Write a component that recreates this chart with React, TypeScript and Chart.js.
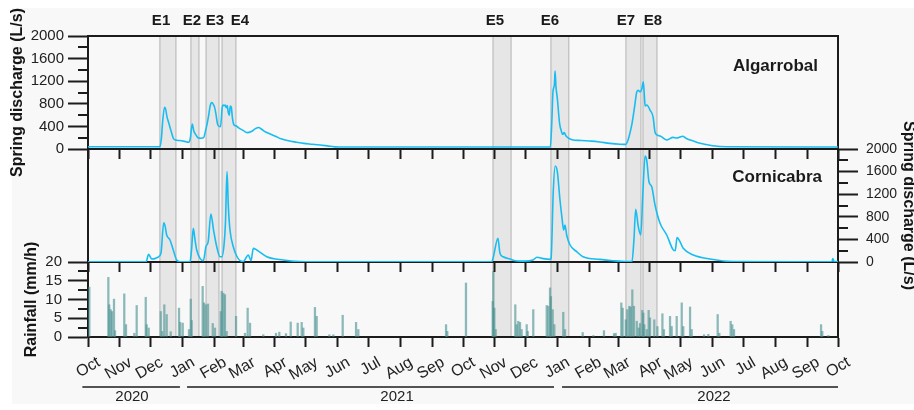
import React, { useEffect, useRef } from 'react';
import { Chart, registerables } from 'chart.js';

Chart.register(...registerables);

const FAMILY = '"Liberation Sans", Arial, Helvetica, sans-serif';
const AX = '#1c1c1c';
const TXT = '#222222';
const LINE = '#17bdf0';
const RAIN = 'rgba(72,146,146,0.62)';

// x axis: days since 1 Oct 2020
const monthTickDays = [0, 31, 61, 92, 123, 151, 182, 212, 243, 273, 304, 335, 365, 396, 426, 457, 488, 516, 547, 577, 608, 638, 669, 700, 730];
const monthLabels = ['Oct', 'Nov', 'Dec', 'Jan', 'Feb', 'Mar', 'Apr', 'May', 'Jun', 'Jul', 'Aug', 'Sep', 'Oct', 'Nov', 'Dec', 'Jan', 'Feb', 'Mar', 'Apr', 'May', 'Jun', 'Jul', 'Aug', 'Sep', 'Oct'];

const yearLabels = ['2020', '2021', '2022'];
const yearLabelDays = [42.8, 300.8, 609.3];
const yearLineStart = [-5.5, 96.4, 461.4];
const yearLineEnd = [89.5, 453.6, 730];

const eventNames = ['E1', 'E2', 'E3', 'E4', 'E5', 'E6', 'E7', 'E8'];
const eventStart = [70, 100.2, 114.9, 130.5, 394.2, 450.6, 523.6, 540.2];
const eventEnd = [85.6, 108, 127.5, 144, 411.8, 468, 538.2, 553.8];
const eventLabelDays = [71.1, 101.2, 123.6, 147.9, 396.1, 449.7, 523.6, 549.9];

const dischargeTicks = [0, 400, 800, 1200, 1600, 2000];
const rainTicks = [0, 5, 10, 15, 20];

// Algarrobal spring discharge (L/s)
const algDays = [0, 70, 71.5, 72.5, 74.5, 75.5, 77, 78.5, 80, 81.5, 83, 85, 89, 94, 98, 99.5, 101.5, 103, 105, 107, 110, 112.5, 114.5, 116, 117.5, 119, 120.5, 122, 123.5, 124.5, 126, 127.5, 129, 130.5, 131.5, 132.5, 133.5, 134.5, 135.5, 136.5, 137.5, 138.5, 139.5, 140.5, 142, 144, 147, 151, 155, 159, 163, 166, 169, 173, 178, 183, 188, 195, 203, 210, 218, 226, 233, 240, 245, 450, 451.5, 452.5, 454, 454.6, 455.5, 456.8, 459, 461, 462, 463.5, 465, 467, 471, 480, 490, 498, 508, 518, 523.5, 525.5, 527.5, 529.5, 531, 532.4, 534, 535.4, 537.3, 539, 540.5, 541.5, 542.3, 544, 547, 550, 552, 555, 557, 563.6, 569.4, 573, 576, 579, 582, 586, 595.7, 608, 622, 730];
const algVals = [40, 40, 200, 450, 740, 710, 560, 470, 370, 280, 190, 160, 150, 135, 120, 180, 440, 320, 250, 200, 190, 200, 330, 450, 600, 770, 820, 790, 720, 620, 450, 400, 395, 720, 780, 765, 780, 730, 770, 650, 600, 760, 740, 560, 430, 410, 370, 330, 290, 310, 360, 380, 350, 300, 260, 220, 180, 145, 120, 100, 85, 70, 55, 38, 35, 35, 500, 1000, 1150, 1380, 1100, 900, 455, 300, 260, 290, 240, 200, 165, 150, 140, 125, 100, 85, 82, 150, 280, 450, 620, 800, 1000, 1040, 1010, 1060, 1190, 950, 760, 780, 690, 570, 290, 240, 230, 160, 205, 195, 210, 225, 190, 160, 100, 58, 40, 35];

// Cornicabra spring discharge (L/s)
const corDays = [0, 56.5, 59, 62, 65, 68, 71, 73.7, 75, 76.6, 79.8, 83, 86.3, 89.5, 99.3, 100.7, 102.5, 104.1, 105.8, 109, 112.3, 114.8, 117, 119.6, 122.2, 125.3, 128.5, 130.4, 132.4, 133.8, 135.3, 136.6, 138.2, 141.4, 144.7, 148, 151.2, 156, 158.7, 160.9, 164.2, 174, 190, 206, 220, 393, 394.2, 399, 401, 404, 410.7, 417.6, 425, 433, 437, 443, 449.7, 450.7, 452.9, 454.8, 456.8, 459.4, 461.4, 463, 464.3, 465.9, 469.2, 475.7, 481.8, 498.3, 511, 525, 529.5, 531.4, 533.1, 535.6, 538, 540.2, 542.2, 543.8, 546, 548.7, 551.9, 556.8, 563.3, 569.8, 571.6, 573.3, 576.2, 579.4, 589.2, 605.4, 627.8, 724, 725, 726, 730];
const corVals = [5, 5, 136, 53, 60, 83, 154, 696, 640, 478, 389, 212, 35, 5, 5, 200, 596, 400, 212, 65, 25, 271, 360, 850, 566, 271, 94, 94, 300, 700, 1600, 980, 566, 271, 106, 23, 10, 124, 23, 242, 212, 94, 35, 8, 5, 5, 60, 419, 154, 94, 53, 18, 15, 35, 83, 60, 47, 60, 1274, 1699, 1598, 1097, 773, 566, 655, 478, 301, 182, 94, 47, 23, 8, 10, 400, 932, 625, 478, 1274, 1876, 1805, 1421, 1333, 1009, 685, 478, 212, 201, 431, 360, 242, 124, 53, 8, 5, 60, 10, 10];

// Rainfall (mm/h)
const rainDays = [1.3, 19.8, 20.7, 22.1, 23.4, 25.3, 26.3, 35.3, 37, 45.1, 47.4, 56.2, 57.1, 59.1, 70.8, 72.3, 74.3, 76.6, 80.5, 88.6, 89.8, 92.2, 98.3, 100, 100.9, 111.6, 112.9, 114.6, 116.8, 121.4, 123.6, 129.2, 130.1, 131.7, 133.3, 135, 144.1, 152.8, 155.4, 157.7, 170.6, 183, 186.2, 192.7, 197.3, 204.1, 208, 209.6, 220.9, 222.6, 234.9, 238.8, 247.9, 260.9, 263.1, 348.5, 349.7, 367.9, 393.9, 394.6, 395.5, 396.8, 415.9, 417.2, 418.8, 420.5, 422.1, 427, 428, 433.4, 446.5, 448.1, 449.7, 450.6, 452.3, 453.9, 462.6, 464.3, 481.5, 491.9, 502.2, 512, 513.6, 519.1, 520.4, 523.4, 524.9, 526.9, 528.2, 529.8, 531.4, 534.1, 536, 537.3, 539.5, 540.5, 541.5, 543.8, 545.7, 547, 551.2, 554.2, 559.1, 560.6, 566.5, 568.1, 573, 577.9, 579.4, 586, 587.6, 599.6, 603.8, 612.9, 614.5, 625.5, 627.1, 628.8, 713.5, 714.7, 720.6];
const rainVals = [13.3, 15.9, 8.6, 7.3, 6.8, 10.1, 1.7, 11.5, 3.3, 1, 8.4, 10.6, 3.3, 2.4, 6.8, 1.5, 8.6, 6, 1.4, 7.7, 3.9, 3.7, 2, 10.1, 4.4, 13.5, 9.1, 8.6, 8.8, 3.6, 2.4, 6.8, 12.2, 11.7, 11.3, 1.5, 5.5, 1, 7.7, 3.7, 0.6, 1, 1.3, 0.9, 4, 3.7, 3.9, 2.4, 7.9, 5.5, 0.6, 0.6, 5.8, 3.9, 2, 3.3, 1.5, 14.4, 9.5, 17.5, 7.7, 2, 8.6, 3.3, 4.2, 3.9, 2, 3.3, 1.5, 7.3, 8.4, 8.2, 13.1, 10.8, 7.3, 3.3, 6.6, 2, 1.2, 0.4, 1.7, 0.9, 1, 9.1, 7.7, 4.6, 7.3, 8.2, 8, 12.6, 8.2, 4.2, 2.4, 3.6, 7.1, 6.4, 3.3, 2, 7.1, 5.1, 4.6, 2.8, 6.2, 2, 5.5, 2.8, 5.5, 9.1, 2.8, 8, 2, 0.6, 0.7, 6, 1, 4.2, 3.3, 2, 3.3, 1.5, 0.4];

type PanelCfg = {
  side: 'left' | 'right';
  minorStep: number;
  max: number;
  name?: string;
  nameDx?: number;
  nameDy?: number;
  events?: boolean;
  years?: boolean;
};

function panelPlugin(cfg: PanelCfg) {
  return {
    id: 'panelDeco',
    beforeDraw(chart: any) {
      const { ctx, chartArea: a, scales } = chart;
      const x = scales.x;
      ctx.save();
      for (let i = 0; i < eventStart.length; i++) {
        const x0 = x.getPixelForValue(eventStart[i]);
        const x1 = x.getPixelForValue(eventEnd[i]);
        ctx.fillStyle = '#e6e6e6';
        ctx.fillRect(x0, a.top, x1 - x0, a.bottom - a.top);
        ctx.strokeStyle = '#b3b3b3';
        ctx.lineWidth = 1;
        ctx.beginPath();
        ctx.moveTo(x0, a.top);
        ctx.lineTo(x0, a.bottom);
        ctx.moveTo(x1, a.top);
        ctx.lineTo(x1, a.bottom);
        ctx.stroke();
      }
      ctx.restore();
    },
    beforeDatasetsDraw(chart: any) {
      const { ctx, chartArea: a, scales } = chart;
      const y = scales.y;
      ctx.save();
      ctx.strokeStyle = AX;
      ctx.lineWidth = 2;
      ctx.strokeRect(a.left, a.top, a.right - a.left, a.bottom - a.top);
      ctx.beginPath();
      for (let v = cfg.minorStep; v < cfg.max; v += cfg.minorStep * 2) {
        const py = Math.round(y.getPixelForValue(v));
        if (cfg.side === 'left') {
          ctx.moveTo(a.left - 10, py);
          ctx.lineTo(a.left, py);
        } else {
          ctx.moveTo(a.right, py);
          ctx.lineTo(a.right + 10, py);
        }
      }
      ctx.stroke();
      ctx.restore();
    },
    afterDraw(chart: any) {
      const { ctx, chartArea: a, scales } = chart;
      const x = scales.x;
      ctx.save();
      ctx.fillStyle = '#1a1a1a';
      if (cfg.name) {
        ctx.font = `bold 17px ${FAMILY}`;
        ctx.textAlign = 'right';
        ctx.textBaseline = 'middle';
        ctx.fillText(cfg.name, a.right - (cfg.nameDx || 20), a.top + (cfg.nameDy || 30));
      }
      if (cfg.events) {
        ctx.font = `bold 15px ${FAMILY}`;
        ctx.textAlign = 'center';
        ctx.textBaseline = 'middle';
        for (let i = 0; i < eventNames.length; i++) {
          ctx.fillText(eventNames[i], x.getPixelForValue(eventLabelDays[i]), a.top - 15);
        }
      }
      if (cfg.years) {
        ctx.strokeStyle = AX;
        ctx.lineWidth = 1.5;
        ctx.beginPath();
        for (let i = 0; i < yearLabels.length; i++) {
          ctx.moveTo(x.getPixelForValue(yearLineStart[i]), a.bottom + 50);
          ctx.lineTo(x.getPixelForValue(yearLineEnd[i]), a.bottom + 50);
        }
        ctx.stroke();
        ctx.font = `15px ${FAMILY}`;
        ctx.textAlign = 'center';
        ctx.textBaseline = 'middle';
        ctx.fillStyle = TXT;
        for (let i = 0; i < yearLabels.length; i++) {
          ctx.fillText(yearLabels[i], x.getPixelForValue(yearLabelDays[i]), a.bottom + 60);
        }
      }
      ctx.restore();
    },
  };
}

function xScale(height: number, showLabels: boolean) {
  return {
    type: 'linear',
    min: 0,
    max: 730,
    offset: false,
    afterBuildTicks: (s: any) => {
      s.ticks = monthTickDays.map((v) => ({ value: v }));
    },
    afterFit: (s: any) => {
      s.height = height;
    },
    ticks: {
      display: showLabels,
      autoSkip: false,
      minRotation: 30,
      maxRotation: 30,
      padding: 6,
      labelOffset: 11,
      color: TXT,
      font: { family: FAMILY, size: 16 },
      callback: (_v: any, i: number) => monthLabels[i],
    },
    grid: {
      display: true,
      offset: false,
      drawOnChartArea: false,
      drawTicks: true,
      tickLength: 10,
      tickWidth: 2,
      tickColor: AX,
    },
    border: { display: true, color: AX, width: 2 },
  };
}

function yScale(opts: {
  position: 'left' | 'right';
  min: number;
  max: number;
  ticks: number[];
  title: string;
  titlePad: number;
  width: number;
  fontSize: number;
  padding: number;
  lineHeight: number;
}) {
  return {
    position: opts.position,
    min: opts.min,
    max: opts.max,
    afterBuildTicks: (s: any) => {
      s.ticks = opts.ticks.map((v) => ({ value: v }));
    },
    afterFit: (s: any) => {
      s.width = opts.width;
    },
    ticks: {
      color: TXT,
      autoSkip: false,
      padding: opts.padding,
      font: { family: FAMILY, size: opts.fontSize },
      callback: (v: any) => String(v),
    },
    grid: {
      display: true,
      drawOnChartArea: false,
      drawTicks: true,
      tickLength: 20,
      tickWidth: 2,
      tickColor: AX,
    },
    border: { display: true, color: AX, width: 2 },
    title: {
      display: true,
      text: opts.title,
      color: '#151515',
      font: { family: FAMILY, size: 16, weight: 'bold', lineHeight: opts.lineHeight },
      padding: { top: opts.titlePad, bottom: 0 },
    },
  };
}

const basePlugins = { legend: { display: false }, tooltip: { enabled: false } };

export default function App() {
  const aRef = useRef<HTMLCanvasElement>(null);
  const bRef = useRef<HTMLCanvasElement>(null);
  const cRef = useRef<HTMLCanvasElement>(null);

  useEffect(() => {
    const charts: Chart[] = [];

    charts.push(
      new Chart(aRef.current as HTMLCanvasElement, {
        type: 'line',
        data: {
          datasets: [
            {
              data: algDays.map((d, i) => ({ x: d, y: algVals[i] })),
              borderColor: LINE,
              borderWidth: 1.6,
              pointRadius: 0,
              cubicInterpolationMode: 'monotone',
            } as any,
          ],
        },
        options: {
          responsive: false,
          animation: false,
          layout: { padding: { top: 36, right: 76, left: 0, bottom: 0 } },
          plugins: basePlugins as any,
          scales: {
            x: xScale(41, false) as any,
            y: yScale({ position: 'left', min: 0, max: 2000, ticks: dischargeTicks, title: 'Spring discharge (L/s)', titlePad: 8, width: 88, fontSize: 15, padding: 4, lineHeight: 1.2 }) as any,
          },
        },
        plugins: [panelPlugin({ side: 'left', minorStep: 200, max: 2000, name: 'Algarrobal', nameDx: 20, nameDy: 30, events: true })],
      })
    );

    charts.push(
      new Chart(bRef.current as HTMLCanvasElement, {
        type: 'line',
        data: {
          datasets: [
            {
              data: corDays.map((d, i) => ({ x: d, y: corVals[i] })),
              borderColor: LINE,
              borderWidth: 1.6,
              pointRadius: 0,
              cubicInterpolationMode: 'monotone',
            } as any,
          ],
        },
        options: {
          responsive: false,
          animation: false,
          layout: { padding: { top: 39, right: 0, left: 88, bottom: 0 } },
          plugins: basePlugins as any,
          scales: {
            x: xScale(48, false) as any,
            y: yScale({ position: 'right', min: 0, max: 2000, ticks: dischargeTicks, title: 'Spring discharge (L/s)', titlePad: 0, width: 76, fontSize: 14, padding: 8, lineHeight: 0.75 }) as any,
          },
        },
        plugins: [panelPlugin({ side: 'right', minorStep: 200, max: 2000, name: 'Cornicabra', nameDx: 16, nameDy: 28 })],
      })
    );

    charts.push(
      new Chart(cRef.current as HTMLCanvasElement, {
        type: 'bar',
        data: {
          datasets: [
            {
              data: rainDays.map((d, i) => ({ x: d, y: rainVals[i] })),
              backgroundColor: RAIN,
              borderWidth: 0,
              barThickness: 1.6,
            } as any,
          ],
        },
        options: {
          responsive: false,
          animation: false,
          layout: { padding: { top: 32, right: 76, left: 0, bottom: 0 } },
          plugins: basePlugins as any,
          scales: {
            x: xScale(73, true) as any,
            y: yScale({ position: 'left', min: 0, max: 20, ticks: rainTicks, title: 'Rainfall (mm/h)', titlePad: 22, width: 88, fontSize: 15, padding: 6, lineHeight: 1.2 }) as any,
          },
        },
        plugins: [panelPlugin({ side: 'left', minorStep: 2.5, max: 20, years: true })],
      })
    );

    return () => {
      charts.forEach((c) => c.destroy());
    };
  }, []);

  return (
    <div style={{ position: 'absolute', left: 0, top: 0, width: 914, height: 410, overflow: 'hidden', background: '#ffffff' }}>
      <div style={{ position: 'absolute', left: 12, top: 8, width: 902, height: 396, background: '#f8f8f8' }} />
      <canvas ref={cRef} width={914} height={180} style={{ position: 'absolute', left: 0, top: 230, zIndex: 1 }} />
      <canvas ref={bRef} width={914} height={200} style={{ position: 'absolute', left: 0, top: 110, zIndex: 2 }} />
      <canvas ref={aRef} width={914} height={190} style={{ position: 'absolute', left: 0, top: 0, zIndex: 3 }} />
    </div>
  );
}
